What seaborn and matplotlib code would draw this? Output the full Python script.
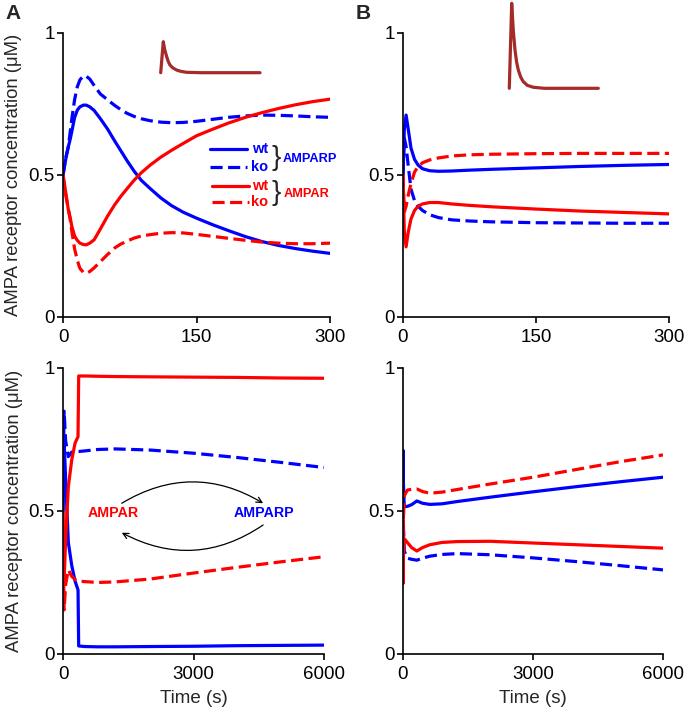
import pandas as pd
import seaborn as sns
import matplotlib.pyplot as plt

# ---- panel A, first 300 s ----
t_a = [0, 3, 6, 8, 10, 13, 16, 19, 23, 26, 30, 35, 42, 50, 58, 65, 72, 80, 88, 98,
       110, 122, 135, 150, 168, 186, 205, 223, 242, 261, 280, 300]
a_p_wt = [0.5, 0.555, 0.6, 0.625, 0.655, 0.702, 0.728, 0.74, 0.746, 0.746, 0.74, 0.727, 0.698, 0.662,
          0.62, 0.585, 0.55, 0.513, 0.481, 0.452, 0.419, 0.392, 0.369, 0.348, 0.325, 0.304, 0.283,
          0.266, 0.252, 0.241, 0.232, 0.224]
a_p_ko = [0.5, 0.56, 0.6, 0.65, 0.7, 0.765, 0.81, 0.835, 0.849, 0.848, 0.838, 0.815, 0.785, 0.765,
          0.745, 0.73, 0.717, 0.706, 0.698, 0.691, 0.686, 0.684, 0.685, 0.689, 0.696, 0.703, 0.708,
          0.711, 0.71, 0.708, 0.705, 0.703]
a_r_wt = [0.5, 0.44, 0.377, 0.35, 0.318, 0.285, 0.27, 0.26, 0.255, 0.254, 0.26, 0.272, 0.31, 0.355,
          0.395, 0.425, 0.452, 0.482, 0.508, 0.535, 0.563, 0.587, 0.611, 0.638, 0.661, 0.683, 0.703,
          0.719, 0.734, 0.747, 0.758, 0.767]
a_r_ko = [0.5, 0.43, 0.38, 0.345, 0.3, 0.24, 0.2, 0.171, 0.157, 0.154, 0.16, 0.173, 0.195, 0.22,
          0.243, 0.257, 0.267, 0.278, 0.285, 0.29, 0.295, 0.297, 0.296, 0.291, 0.284, 0.277, 0.27,
          0.264, 0.26, 0.258, 0.258, 0.26]

# ---- panel B, first 300 s ----
t_b = [0, 1.5, 3.5, 6, 9, 13, 17, 22, 30, 40, 55, 75, 100, 150, 200, 250, 300]
b_p_wt = [0.5, 0.66, 0.711, 0.66, 0.595, 0.555, 0.535, 0.522, 0.515, 0.513, 0.514, 0.517, 0.52, 0.525, 0.53, 0.534, 0.537]
b_p_ko = [0.5, 0.63, 0.6, 0.53, 0.45, 0.41, 0.39, 0.375, 0.36, 0.35, 0.342, 0.338, 0.335, 0.332, 0.331, 0.33, 0.33]
b_r_wt = [0.5, 0.3, 0.247, 0.3, 0.345, 0.375, 0.39, 0.398, 0.403, 0.403, 0.398, 0.393, 0.388, 0.38, 0.373, 0.368, 0.363]
b_r_ko = [0.5, 0.37, 0.39, 0.43, 0.47, 0.51, 0.53, 0.543, 0.553, 0.56, 0.567, 0.571, 0.573, 0.575, 0.576, 0.576, 0.576]

# ---- panel A, 6000 s ----
t_al = [0, 10, 25, 60, 122, 200, 276, 345, 360, 500, 800, 1200, 2000, 3000, 4000, 5000, 6000]
al_p_wt = [0.5, 0.66, 0.746, 0.61, 0.39, 0.31, 0.255, 0.224, 0.028, 0.026, 0.025, 0.025, 0.026, 0.027, 0.029, 0.03, 0.031]
al_p_ko = [0.5, 0.7, 0.849, 0.745, 0.69, 0.706, 0.708, 0.708, 0.708, 0.71, 0.715, 0.717, 0.713, 0.702, 0.687, 0.67, 0.652]
al_r_wt = [0.5, 0.32, 0.256, 0.4, 0.585, 0.678, 0.737, 0.76, 0.972, 0.972, 0.971, 0.97, 0.969, 0.968, 0.967, 0.965, 0.964]
al_r_ko = [0.5, 0.3, 0.154, 0.243, 0.294, 0.272, 0.26, 0.255, 0.255, 0.253, 0.25, 0.252, 0.262, 0.283, 0.303, 0.322, 0.34]

# ---- panel B, 6000 s ----
t_bl = [0, 2, 4, 10, 30, 100, 200, 320, 450, 620, 900, 1250, 2000, 3000, 4000, 5000, 6000]
bl_p_wt = [0.5, 0.66, 0.711, 0.595, 0.515, 0.516, 0.522, 0.535, 0.527, 0.523, 0.525, 0.533, 0.548, 0.567, 0.585, 0.602, 0.618]
bl_p_ko = [0.5, 0.63, 0.6, 0.45, 0.36, 0.335, 0.331, 0.328, 0.335, 0.342, 0.348, 0.351, 0.347, 0.336, 0.323, 0.309, 0.294]
bl_r_wt = [0.5, 0.28, 0.247, 0.345, 0.403, 0.39, 0.372, 0.36, 0.372, 0.382, 0.39, 0.393, 0.394, 0.388, 0.382, 0.376, 0.37]
bl_r_ko = [0.5, 0.37, 0.4, 0.47, 0.553, 0.573, 0.576, 0.577, 0.568, 0.562, 0.566, 0.575, 0.594, 0.618, 0.645, 0.672, 0.696]

# stimulus insets (arbitrary units)
stim_a_x = [0, 2.6, 4, 6, 7.5, 9.3, 12, 16, 20, 26, 40, 100]
stim_a_y = [0, 1, 0.75, 0.52, 0.37, 0.25, 0.16, 0.087, 0.045, 0.013, 0, 0]
stim_b_x = [0, 2.4, 4, 5.7, 7.3, 9, 11.5, 14, 18, 24, 35, 89]
stim_b_y = [0, 1, 0.68, 0.45, 0.31, 0.215, 0.13, 0.078, 0.035, 0.012, 0, 0]

y_ticks = [0, 0.5, 1]
y_ticklabels = ["0", "0.5", "1"]
x_ticks_short = [0, 150, 300]
x_ticks_long = [0, 3000, 6000]

palette = {"AMPARP": "#0000ff", "AMPAR": "#ff0000"}
dashes = {"wt": "", "ko": (3.8, 1.7)}


def long_df(t, p_wt, p_ko, r_wt, r_ko):
    parts = []
    for sp, g, v in [("AMPARP", "wt", p_wt), ("AMPARP", "ko", p_ko),
                     ("AMPAR", "wt", r_wt), ("AMPAR", "ko", r_ko)]:
        parts.append(pd.DataFrame({"time": t, "conc": v, "species": sp, "geno": g}))
    return pd.concat(parts, ignore_index=True)


sns.set_style("ticks")
plt.rcParams['font.family'] = ['Liberation Sans', 'DejaVu Sans']

fig = plt.figure(figsize=(6.85, 7.09), dpi=100)
ax_a = fig.add_axes([0.0920, 0.5529, 0.3898, 0.4006])
ax_b = fig.add_axes([0.5883, 0.5529, 0.3883, 0.4006])
ax_al = fig.add_axes([0.0920, 0.0776, 0.3810, 0.4034])
ax_bl = fig.add_axes([0.5883, 0.0776, 0.3796, 0.4034])

panels = [
    (ax_a, long_df(t_a, a_p_wt, a_p_ko, a_r_wt, a_r_ko), x_ticks_short),
    (ax_b, long_df(t_b, b_p_wt, b_p_ko, b_r_wt, b_r_ko), x_ticks_short),
    (ax_al, long_df(t_al, al_p_wt, al_p_ko, al_r_wt, al_r_ko), x_ticks_long),
    (ax_bl, long_df(t_bl, bl_p_wt, bl_p_ko, bl_r_wt, bl_r_ko), x_ticks_long),
]

for ax, df, xt in panels:
    sns.lineplot(data=df, x="time", y="conc", hue="species", style="geno",
                 palette=palette, dashes=dashes, linewidth=2.3, estimator=None,
                 sort=False, legend=False, ax=ax)
    ax.set_xlim(xt[0], xt[-1])
    ax.set_ylim(0, 1)
    ax.set_xticks(xt)
    ax.set_xticklabels([str(v) for v in xt])
    ax.set_yticks(y_ticks)
    ax.set_yticklabels(y_ticklabels)
    ax.set_xlabel("")
    ax.set_ylabel("")
    sns.despine(ax=ax)
    for s in ["left", "bottom"]:
        ax.spines[s].set_linewidth(1.2)
        ax.spines[s].set_color("black")
    ax.tick_params(direction="out", length=4, width=1.2, labelsize=13.5, colors="black")
    ax.tick_params(axis="x", pad=5)
    ax.tick_params(axis="y", pad=2)

for ax in [ax_a, ax_al]:
    ax.set_ylabel("AMPA receptor concentration (\u03bcM)", fontsize=13.3)
    ax.yaxis.set_label_coords(-0.155, 0.5)
for ax in [ax_al, ax_bl]:
    ax.set_xlabel("Time (s)", fontsize=13.5, labelpad=5)

# legend drawn in panel A
tr = ax_a.transAxes
ax_a.plot([0.551, 0.689], [0.592, 0.592], color="#0000ff", lw=2.3, transform=tr)
ax_a.plot([0.551, 0.689], [0.529, 0.529], color="#0000ff", lw=2.3, dashes=(3.8, 1.7), transform=tr)
ax_a.plot([0.557, 0.697], [0.461, 0.461], color="#ff0000", lw=2.3, transform=tr)
ax_a.plot([0.557, 0.697], [0.406, 0.406], color="#ff0000", lw=2.3, dashes=(3.8, 1.7), transform=tr)
for y, lab, c in [(0.592, "wt", "#0000ff"), (0.529, "ko", "#0000ff"),
                  (0.461, "wt", "#ff0000"), (0.406, "ko", "#ff0000")]:
    ax_a.text(0.770, y, lab, color=c, fontsize=10.5, fontweight="bold", ha="right", va="center", transform=tr)
ax_a.text(0.800, 0.560, "}", fontsize=20, ha="center", va="center", transform=tr)
ax_a.text(0.800, 0.435, "}", fontsize=20, ha="center", va="center", transform=tr)
ax_a.text(0.823, 0.557, "AMPARP", color="#0000ff", fontsize=9.2, fontweight="bold", ha="left", va="center",
          transform=tr, clip_on=False)
ax_a.text(0.828, 0.433, "AMPAR", color="#ff0000", fontsize=9.2, fontweight="bold", ha="left", va="center",
          transform=tr, clip_on=False)

# reaction scheme in lower panel A
ax_al.text(1157, 0.492, "AMPAR", color="#ff0000", fontsize=10.2, fontweight="bold", ha="center", va="center")
ax_al.text(4621, 0.492, "AMPARP", color="#0000ff", fontsize=10.2, fontweight="bold", ha="center", va="center")
ax_al.annotate("", xy=(4600, 0.527), xytext=(1350, 0.527),
               arrowprops=dict(arrowstyle="->", connectionstyle="arc3,rad=-0.3", lw=0.9,
                               color="black", shrinkA=0, shrinkB=0))
ax_al.annotate("", xy=(1350, 0.424), xytext=(4600, 0.451),
               arrowprops=dict(arrowstyle="->", connectionstyle="arc3,rad=-0.3", lw=0.9,
                               color="black", shrinkA=0, shrinkB=0))

# stimulus insets
ins_a = fig.add_axes([160.7 / 685, 1 - 72.7 / 709, 99.3 / 685, 31 / 709])
ins_b = fig.add_axes([509.3 / 685, 1 - 88.3 / 709, 89 / 685, 85 / 709])
for ins, sx, sy in [(ins_a, stim_a_x, stim_a_y), (ins_b, stim_b_x, stim_b_y)]:
    sns.lineplot(x=sx, y=sy, color="#a52a2a", linewidth=2.3, estimator=None, sort=False, ax=ins)
    ins.set_xlim(sx[0], sx[-1])
    ins.set_ylim(0, 1)
    ins.set_axis_off()
    for ln in ins.lines:
        ln.set_clip_on(False)

fig.text(5 / 685, 1 - 4 / 709, "A", fontsize=15, fontweight="bold", ha="left", va="top")
fig.text(356 / 685, 1 - 4 / 709, "B", fontsize=15, fontweight="bold", ha="left", va="top")

fig.savefig("out.png", dpi=100)
